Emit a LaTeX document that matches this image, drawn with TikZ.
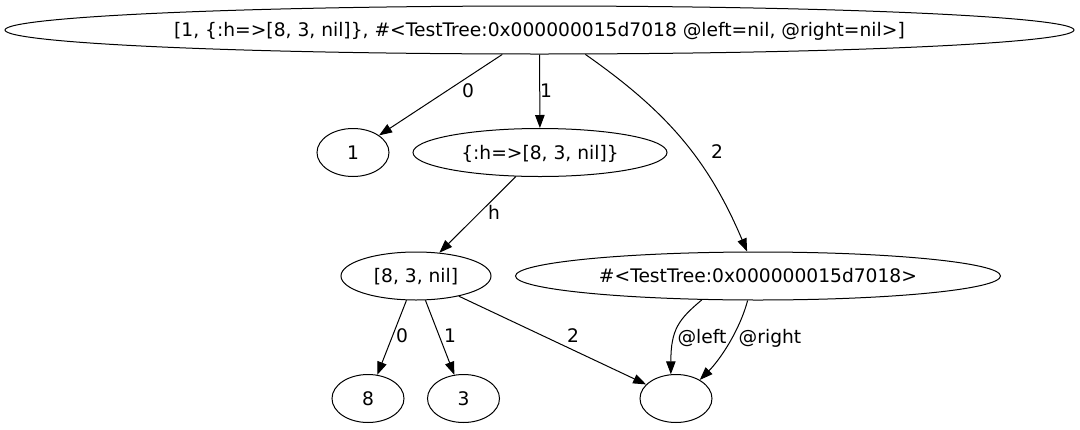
\documentclass[tikz,border=0pt]{standalone}
\usepackage{fontspec}
\setmainfont{DejaVu Sans}
\usetikzlibrary{shapes.geometric,arrows.meta}
\begin{document}
\begin{tikzpicture}[x=1pt,y=1pt,
  nd/.style={draw, ellipse, inner sep=0pt, minimum height=48pt, line width=1pt,
    text height=13.6pt, text depth=0pt, font=\fontsize{18.67}{22}\selectfont},
  lbl/.style={inner sep=0pt, anchor=base, font=\fontsize{18.67}{22}\selectfont},
  edge/.style={line width=1pt, -{Triangle[length=13pt,width=9.5pt]}}
]
\fill[white] (0,0) rectangle (1080,-429);
\useasboundingbox (0,0) rectangle (1080,-429);
\node[nd, minimum width=1069pt] (root) at (539.5,-30) {[1, \{:h=>[8, 3, nil]\}, \#<TestTree:0x000000015d7018 @left=nil, @right=nil>]};
\node[nd, minimum width=72pt] (n1) at (353,-152.5) {1};
\node[nd, minimum width=254pt] (n2) at (540,-152.5) {\{:h=>[8, 3, nil]\}};
\node[nd, minimum width=150pt] (n3) at (416,-276) {[8, 3, nil]};
\node[nd, minimum width=485pt] (n4) at (758,-276) {\#<TestTree:0x000000015d7018>};
\node[nd, minimum width=72pt] (n5) at (368,-398.5) {8};
\node[nd, minimum width=72pt] (n6) at (463.5,-398.5) {3};
\node[nd, minimum width=72pt] (n7) at (676,-398.5) {};
\draw[edge] (root) -- (n1);
\draw[edge] (root) -- (n2);
\draw[edge] (root.-28) to[out=-35,in=113] (n4.114);
\draw[edge] (n2) -- (n3);
\draw[edge] (n3) -- (n5);
\draw[edge] (n3) -- (n6);
\draw[edge] (n3) -- (n7);
\draw[edge] (n4.-157) .. controls +(-140:30) and +(90:45) .. (n7.102);
\draw[edge] (n4.-113) .. controls +(-105:32) and +(45:28) .. (n7.38);
\node[lbl] (l0) at (468,-97.8) {0};
\node[lbl] (l1) at (546,-97.8) {1};
\node[lbl] (l2) at (717,-158.8) {2};
\node[lbl] (lh) at (494,-219.8) {h};
\node[lbl] (l30) at (402,-342.8) {0};
\node[lbl] (l31) at (450,-342.8) {1};
\node[lbl] (l32) at (573,-342.8) {2};
\node[lbl] (lleft) at (702,-343.8) {@left};
\node[lbl] (lright) at (770,-343.8) {@right};
\end{tikzpicture}
\end{document}
